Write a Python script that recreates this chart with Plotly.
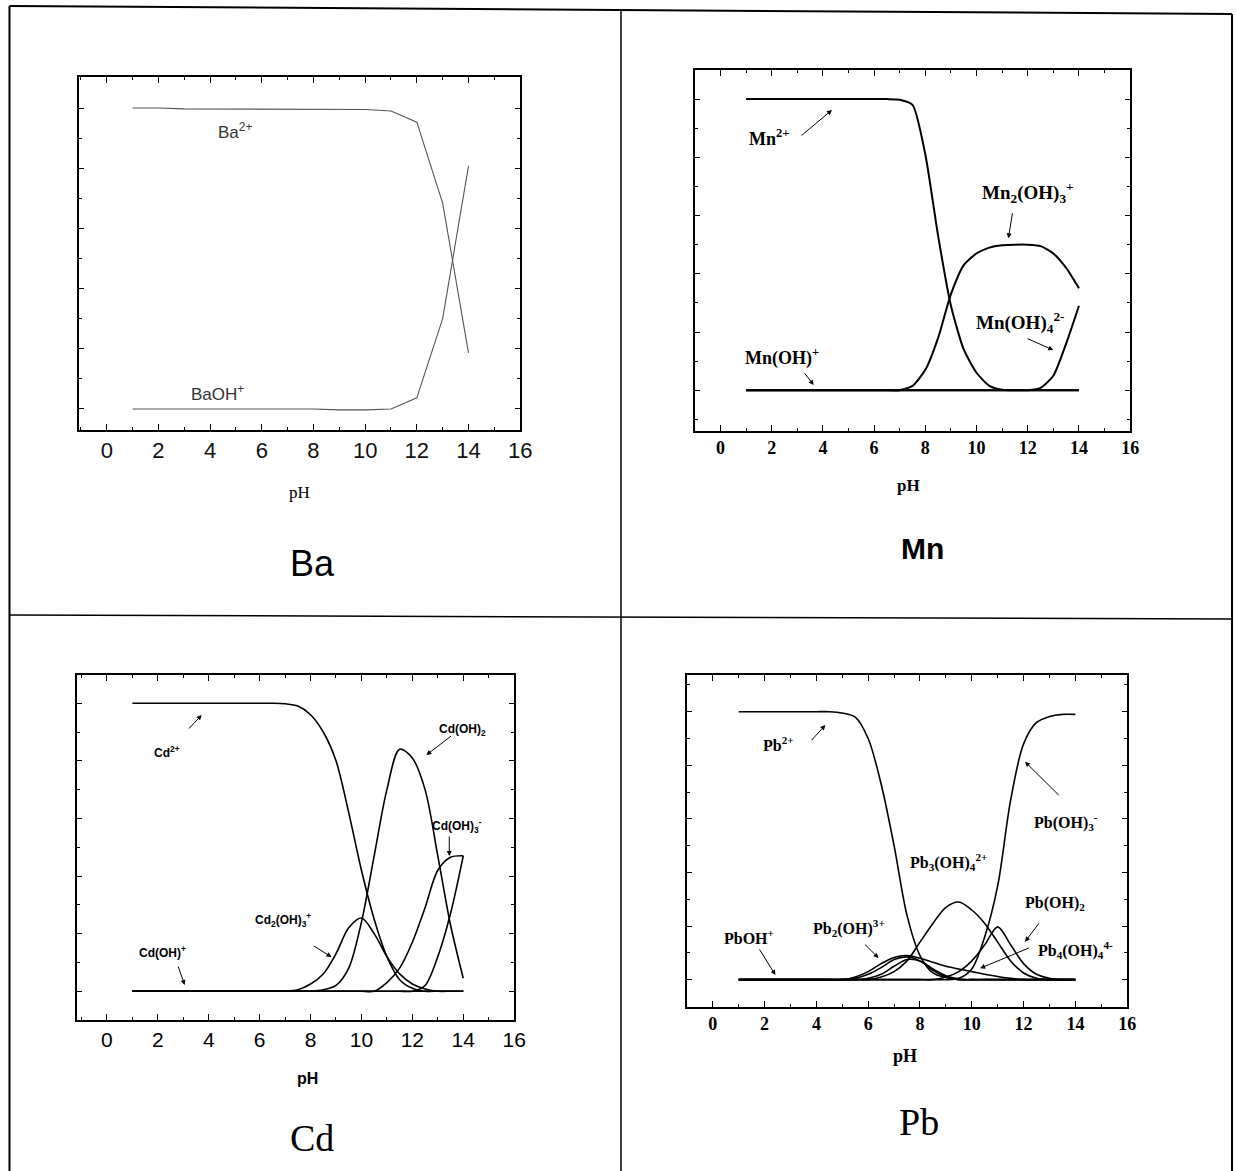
import plotly.graph_objects as go

W, H = 1237, 1171      # target picture size
LW = 1247              # layout width (the capture is compressed horizontally slightly)

# ---------------- data ----------------
ba_ph = [1, 2, 3, 4, 5, 6, 7, 8, 9, 10, 11, 12, 13, 14]
ba_ba2 = [1.0, 1.0, 0.997, 0.997, 0.997, 0.997, 0.997, 0.997, 0.996, 0.995, 0.99, 0.953, 0.684, 0.186]
ba_baoh = [0.0, 0.0, 0.0, 0.0, 0.0, 0.0, 0.0, 0.0, -0.003, -0.003, 0.0, 0.037, 0.30, 0.807]

ph_half = [1, 1.5, 2, 2.5, 3, 3.5, 4, 4.5, 5, 5.5, 6, 6.5, 7, 7.5, 8, 8.5, 9, 9.5,
           10, 10.5, 11, 11.5, 12, 12.5, 13, 13.5, 14]

mn_mn2 = [1, 1, 1, 1, 1, 1, 1, 1, 1, 1, 1, 1, 0.998, 0.98, 0.81, 0.53, 0.29, 0.14,
          0.06, 0.015, 0.002, 0, 0, 0, 0, 0, 0]
mn_mn2oh3 = [0, 0, 0, 0, 0, 0, 0, 0, 0, 0, 0, 0, 0.0, 0.015, 0.07, 0.18, 0.33, 0.43,
             0.47, 0.49, 0.498, 0.5, 0.5, 0.495, 0.47, 0.42, 0.35]
mn_mnoh4 = [0, 0, 0, 0, 0, 0, 0, 0, 0, 0, 0, 0, 0, 0, 0, 0, 0, 0,
            0, 0, 0, 0, 0, 0.008, 0.05, 0.16, 0.29]
mn_mnoh = [0] * 27

cd_cd2 = [1, 1, 1, 1, 1, 1, 1, 1, 1, 1, 1, 1, 0.998, 0.99, 0.96, 0.9, 0.8, 0.62,
          0.42, 0.25, 0.12, 0.04, 0.01, 0, 0, 0, 0]
cd_cd2oh3 = [0, 0, 0, 0, 0, 0, 0, 0, 0, 0, 0, 0, 0.0, 0.005, 0.025, 0.06, 0.13, 0.22,
             0.254, 0.2, 0.12, 0.06, 0.025, 0.008, 0, 0, 0]
cd_cdoh2 = [0, 0, 0, 0, 0, 0, 0, 0, 0, 0, 0, 0, 0, 0, 0.0, 0.005, 0.02, 0.08,
            0.24, 0.47, 0.70, 0.84, 0.81, 0.70, 0.47, 0.23, 0.045]
cd_cdoh3 = [0, 0, 0, 0, 0, 0, 0, 0, 0, 0, 0, 0, 0, 0, 0, 0, 0, 0,
            0, 0.0, 0.03, 0.08, 0.17, 0.29, 0.42, 0.465, 0.47]
cd_cdoh4 = [0, 0, 0, 0, 0, 0, 0, 0, 0, 0, 0, 0, 0, 0, 0, 0, 0, 0,
            0, 0, 0, 0, 0.0, 0.02, 0.12, 0.27, 0.47]
cd_cdoh = [0] * 27

pb_pb2 = [1, 1, 1, 1, 1, 1, 1, 1, 0.995, 0.98, 0.9, 0.73, 0.5, 0.24, 0.09, 0.025,
          0.008, 0, 0, 0, 0, 0, 0, 0, 0, 0, 0]
pb_pboh3 = [0, 0, 0, 0, 0, 0, 0, 0, 0, 0, 0, 0, 0, 0, 0, 0, 0.0, 0.005,
            0.04, 0.16, 0.35, 0.67, 0.88, 0.96, 0.982, 0.99, 0.99]
pb_pb3oh4 = [0, 0, 0, 0, 0, 0, 0, 0, 0, 0, 0.0, 0.01, 0.03, 0.07, 0.14, 0.21, 0.27, 0.29,
             0.26, 0.21, 0.14, 0.07, 0.025, 0.005, 0, 0, 0]
pb_pboh2 = [0, 0, 0, 0, 0, 0, 0, 0, 0, 0, 0, 0, 0, 0, 0, 0.0, 0.01, 0.03,
            0.07, 0.13, 0.197, 0.13, 0.06, 0.02, 0.005, 0, 0]
pb_pb2oh3 = [0, 0, 0, 0, 0, 0, 0, 0, 0.0, 0.01, 0.03, 0.06, 0.083, 0.09, 0.08, 0.065, 0.05, 0.04,
             0.03, 0.02, 0.012, 0.005, 0, 0, 0, 0, 0]
pb_pboh = [0, 0, 0, 0, 0, 0, 0, 0, 0, 0.005, 0.02, 0.045, 0.075, 0.085, 0.07, 0.035, 0.01, 0,
           0, 0, 0, 0, 0, 0, 0, 0, 0]
pb_pb4oh4 = [0, 0, 0, 0, 0, 0, 0, 0, 0, 0, 0.005, 0.02, 0.05, 0.075, 0.07, 0.04, 0.015, 0.003,
             0, 0, 0, 0, 0, 0, 0, 0, 0]

x_ticks = [0, 2, 4, 6, 8, 10, 12, 14, 16]

# ---------------- helpers ----------------
def px(x):
    return x / W

def py(y):
    return 1 - y / H

SCALE = LW / W  # pixel offsets (arrows) are in layout px

SANS = "Liberation Sans, Arial, sans-serif"
SERIF = "Liberation Serif, Times New Roman, serif"

fig = go.Figure()

panels = [
    ("1", (79, 521), (77, 430), [-1.08, 16], [-0.07, 1.103], dict(family=SANS, size=22, color="#111")),
    ("2", (696, 1132), (70, 431), [-1.0, 16], [-0.14, 1.10], dict(family=SERIF, size=18, color="#000")),
    ("3", (77, 515), (675, 1020), [-1.18, 16], [-0.10, 1.098], dict(family=SANS, size=21, color="#000")),
    ("4", (688, 1129), (675, 1007), [-1.0, 16], [-0.102, 1.137], dict(family=SERIF, size=18, color="#000")),
]

layout = dict(
    width=LW, height=H, margin=dict(l=0, r=0, t=0, b=0), autosize=False,
    paper_bgcolor="white", plot_bgcolor="white", showlegend=False,
)

for name, (x0, x1), (y0, y1), xr, yr, tf in panels:
    xa = "xaxis" if name == "1" else f"xaxis{name}"
    ya = "yaxis" if name == "1" else f"yaxis{name}"
    if name in ("2", "4"):
        ticktext = [f"<b>{v}</b>" for v in x_ticks]
    else:
        ticktext = [str(v) for v in x_ticks]
    layout[xa] = dict(
        domain=[px(x0), px(x1)], range=xr, anchor="y" if name == "1" else f"y{name}",
        tickvals=x_ticks, ticktext=ticktext, ticks="inside", ticklen=6,
        tickwidth=1, tickcolor="black", showline=True, linecolor="black", linewidth=1.5,
        mirror="allticks", showgrid=False, zeroline=False, tickfont=tf,
        minor=dict(dtick=1, tick0=0, ticks="inside", ticklen=3, tickcolor="black", showgrid=False),
        fixedrange=True,
    )
    layout[ya] = dict(
        domain=[py(y1), py(y0)], range=yr, anchor="x" if name == "1" else f"x{name}",
        showticklabels=False, ticks="inside", ticklen=5, tickwidth=1, tickcolor="black",
        tickvals=[0, 0.2, 0.4, 0.6, 0.8, 1.0],
        showline=True, linecolor="black", linewidth=1.5, mirror="allticks",
        showgrid=False, zeroline=False,
        minor=dict(dtick=0.1, tick0=0, ticks="inside", ticklen=3, tickcolor="black", showgrid=False),
        fixedrange=True,
    )

def add(xs, ys, ax, color="black", width=1.6, shape="spline", smooth=0.9):
    line = dict(color=color, width=width, shape=shape)
    if shape == "spline":
        line["smoothing"] = smooth
    fig.add_trace(go.Scatter(
        x=xs, y=ys, mode="lines", xaxis="x" if ax == "1" else f"x{ax}",
        yaxis="y" if ax == "1" else f"y{ax}", line=line, hoverinfo="skip"))

add(ba_ph, ba_ba2, "1", color="#555", width=1.1, shape="linear")
add(ba_ph, ba_baoh, "1", color="#555", width=1.1, shape="linear")

for s in [mn_mn2, mn_mn2oh3, mn_mnoh4, mn_mnoh]:
    add(ph_half, s, "2", width=2.0, smooth=0.6)
for s in [cd_cd2, cd_cd2oh3, cd_cdoh2, cd_cdoh3, cd_cdoh4, cd_cdoh]:
    add(ph_half, s, "3", width=1.6, smooth=0.9)
for s in [pb_pb2, pb_pboh3, pb_pb3oh4, pb_pboh2, pb_pb2oh3, pb_pboh, pb_pb4oh4]:
    add(ph_half, s, "4", width=1.6, smooth=0.9)

fig.update_layout(**layout)

ann = []

def label(text, x, y, font, size, color="black", bold=False):
    t = f"<b>{text}</b>" if bold else text
    ann.append(dict(text=t, x=px(x), y=py(y), xref="paper", yref="paper", showarrow=False,
                    xanchor="center", yanchor="middle",
                    font=dict(family=font, size=size, color=color)))

def arrow(tx, ty, hx, hy, width=1.0):
    ann.append(dict(text="", x=px(hx), y=py(hy), xref="paper", yref="paper",
                    ax=(tx - hx) * SCALE, ay=ty - hy, showarrow=True, arrowhead=2, arrowsize=1,
                    arrowwidth=width, arrowcolor="black"))

# Panel Ba
label("Ba<sup>2+</sup>", 235, 131, SANS, 17, color="#333")
label("BaOH<sup>+</sup>", 218, 393, SANS, 17, color="#333")
label("pH", 300, 492, SERIF, 17)
label("Ba", 313, 563, SANS, 36)

# Panel Mn
label("Mn<sup>2+</sup>", 770, 138, SERIF, 18, bold=True)
arrow(801.7, 136.7, 833.3, 110)
label("Mn<sub>2</sub>(OH)<sub>3</sub><sup>+</sup>", 1030, 192, SERIF, 19, bold=True)
arrow(1014.3, 211.7, 1010, 238.3)
label("Mn(OH)<sub>4</sub><sup>2-</sup>", 1022, 322, SERIF, 19, bold=True)
arrow(1028, 338, 1055, 350)
label("Mn(OH)<sup>+</sup>", 783, 357, SERIF, 18, bold=True)
arrow(805, 372, 815, 385)
label("pH", 910, 485, SERIF, 17, bold=True)
label("Mn", 924, 548, SANS, 30, bold=True)

# Panel Cd
label("Cd<sup>2+</sup>", 167, 752, SANS, 12, bold=True)
arrow(188, 730, 202, 715)
label("Cd(OH)<sub>2</sub>", 463, 730, SANS, 12, bold=True)
arrow(453, 735, 427, 755)
label("Cd(OH)<sub>3</sub><sup>-</sup>", 458, 826, SANS, 12, bold=True)
arrow(450, 835, 450, 856)
label("Cd<sub>2</sub>(OH)<sub>3</sub><sup>+</sup>", 283, 920, SANS, 12, bold=True)
arrow(313, 945, 332, 957)
label("Cd(OH)<sup>+</sup>", 163, 952, SANS, 12, bold=True)
arrow(178, 965, 185, 985)
label("pH", 308, 1078, SANS, 16, bold=True)
label("Cd", 313, 1138, SERIF, 38)

# Panel Pb
label("Pb<sup>2+</sup>", 780, 744, SERIF, 16, bold=True)
arrow(811.7, 741.7, 826.7, 725)
label("Pb(OH)<sub>3</sub><sup>-</sup>", 1068, 822, SERIF, 16, bold=True)
arrow(1061.7, 796.7, 1026.7, 761.7)
label("Pb<sub>3</sub>(OH)<sub>4</sub><sup>2+</sup>", 950, 862, SERIF, 16, bold=True)
label("Pb(OH)<sub>2</sub>", 1057, 903, SERIF, 16, bold=True)
arrow(1041.7, 921.7, 1026.7, 941.7)
label("Pb<sub>4</sub>(OH)<sub>4</sub><sup>4-</sup>", 1077, 950, SERIF, 16, bold=True)
arrow(1031.7, 947.3, 981.7, 968.3)
label("Pb<sub>2</sub>(OH)<sup>3+</sup>", 850, 928, SERIF, 16, bold=True)
arrow(865, 943, 880, 958)
label("PbOH<sup>+</sup>", 750, 937, SERIF, 16, bold=True)
arrow(760, 948, 776.7, 975)
label("pH", 906, 1056, SERIF, 18, bold=True)
label("Pb", 920, 1122, SERIF, 38)

fig.update_layout(annotations=ann)

# Table borders
def line(x0, y0, x1, y1, w=2):
    fig.add_shape(type="line", xref="paper", yref="paper", x0=px(x0), y0=py(y0), x1=px(x1), y1=py(y1),
                  line=dict(color="black", width=w))

line(9.5, 6, 1234, 14)
line(9.5, 6, 9.5, 1171)
line(1234, 14, 1234, 1171)
line(622, 10, 622, 1171, w=1.5)
line(9.5, 615, 1234, 619, w=1.5)

fig.write_html(
    "out.html",
    config={"displayModeBar": False},
    default_width=f"{LW}px",
    default_height=f"{H}px",
    post_script=("document.documentElement.style.margin='0';document.documentElement.style.overflow='hidden';"
                 "document.body.style.margin='0';document.body.style.padding='0';document.body.style.overflow='hidden';"),
)
